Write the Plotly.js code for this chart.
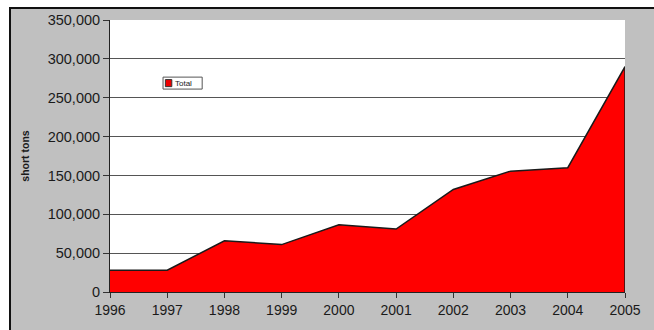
<!DOCTYPE html>
<html>
<head>
<meta charset="utf-8">
<script src="https://cdn.plot.ly/plotly-3.0.1.min.js"></script>
<style>
  html, body { margin: 0; padding: 0; background: #ffffff; }
  #wrap { position: relative; width: 654px; height: 330px; overflow: hidden; }
  #chart { position: absolute; left: 0; top: 0; width: 654px; height: 330px; }
  .frameTop { position: absolute; left: 0; top: 0; width: 654px; height: 7px; background: #fff; pointer-events: none; }
  .frameLeft { position: absolute; left: 0; top: 0; width: 9px; height: 330px; background: #fff; pointer-events: none; }
  .lineTop { position: absolute; left: 9px; top: 7px; width: 645px; height: 2px; background: #111; pointer-events: none; }
  .lineLeft { position: absolute; left: 9px; top: 7px; width: 2px; height: 323px; background: #111; pointer-events: none; }
</style>
</head>
<body>
<div id="wrap">
  <div id="chart"></div>
  <div class="frameTop"></div>
  <div class="frameLeft"></div>
  <div class="lineTop"></div>
  <div class="lineLeft"></div>
</div>
<script>
const years = [1996, 1997, 1998, 1999, 2000, 2001, 2002, 2003, 2004, 2005];
const totalShortTons = [28000, 28000, 66000, 61000, 86500, 81000, 132000, 155500, 160000, 290000];
const seriesName = "Total";
const yTitle = "short tons";

const lastX = years[years.length - 1];
const lastY = totalShortTons[totalShortTons.length - 1];
const yMax = 350000;

const trace = {
  x: years,
  y: totalShortTons,
  type: "scatter",
  mode: "lines",
  name: seriesName,
  fill: "tozeroy",
  fillcolor: "#ff0000",
  line: { color: "#1a1a1a", width: 1.5 },
  hoverinfo: "x+y"
};

const font = { family: "Liberation Sans, Arial, sans-serif", color: "#1a1a1a" };

const layout = {
  width: 654,
  height: 330,
  margin: { l: 110, r: 29, t: 20, b: 38, pad: 0 },
  paper_bgcolor: "#c0c0c0",
  plot_bgcolor: "#ffffff",
  showlegend: false,
  font: font,
  xaxis: {
    type: "linear",
    range: [years[0], lastX],
    tickmode: "array",
    tickvals: years,
    ticktext: years.map(String),
    ticks: "outside",
    ticklen: 5,
    tickcolor: "#333",
    showgrid: false,
    zeroline: false,
    showline: true,
    linecolor: "#222",
    linewidth: 1,
    tickfont: { family: font.family, size: 14, color: "#1a1a1a" },
    fixedrange: true
  },
  yaxis: {
    range: [0, yMax],
    dtick: 50000,
    tick0: 0,
    tickformat: ",d",
    ticks: "outside",
    ticklen: 6,
    tickcolor: "#333",
    showgrid: true,
    gridcolor: "#555555",
    gridwidth: 1,
    zeroline: false,
    showline: true,
    linecolor: "#222",
    linewidth: 1,
    tickfont: { family: font.family, size: 14.5, color: "#1a1a1a" },
    title: { text: yTitle, font: { family: font.family, size: 10.5, color: "#1a1a1a", weight: "bold" }, standoff: 16 },
    fixedrange: true
  },
  shapes: [
    { type: "line", xref: "x", yref: "y", x0: lastX, x1: lastX, y0: 0, y1: lastY,
      line: { color: "#1a1a1a", width: 1.5 } },
    { type: "line", xref: "paper", yref: "y", x0: 0.003, x1: 1, y0: yMax, y1: yMax, layer: "above",
      line: { color: "#ffffff", width: 2 } },
    { type: "rect", xref: "paper", yref: "paper", x0: 0.103, x1: 0.179, y0: 0.746, y1: 0.790,
      fillcolor: "#ffffff", line: { color: "#555", width: 1 } },
    { type: "rect", xref: "paper", yref: "paper", x0: 0.1075, x1: 0.1200, y0: 0.755, y1: 0.781,
      fillcolor: "#ee0000", line: { color: "#333", width: 1 } }
  ],
  annotations: [
    { xref: "paper", yref: "paper", x: 0.122, y: 0.768, xanchor: "left", yanchor: "middle",
      text: seriesName, showarrow: false, font: { family: font.family, size: 8, color: "#222" } }
  ]
};

Plotly.newPlot("chart", [trace], layout, { displayModeBar: false, staticPlot: true });
</script>
</body>
</html>
